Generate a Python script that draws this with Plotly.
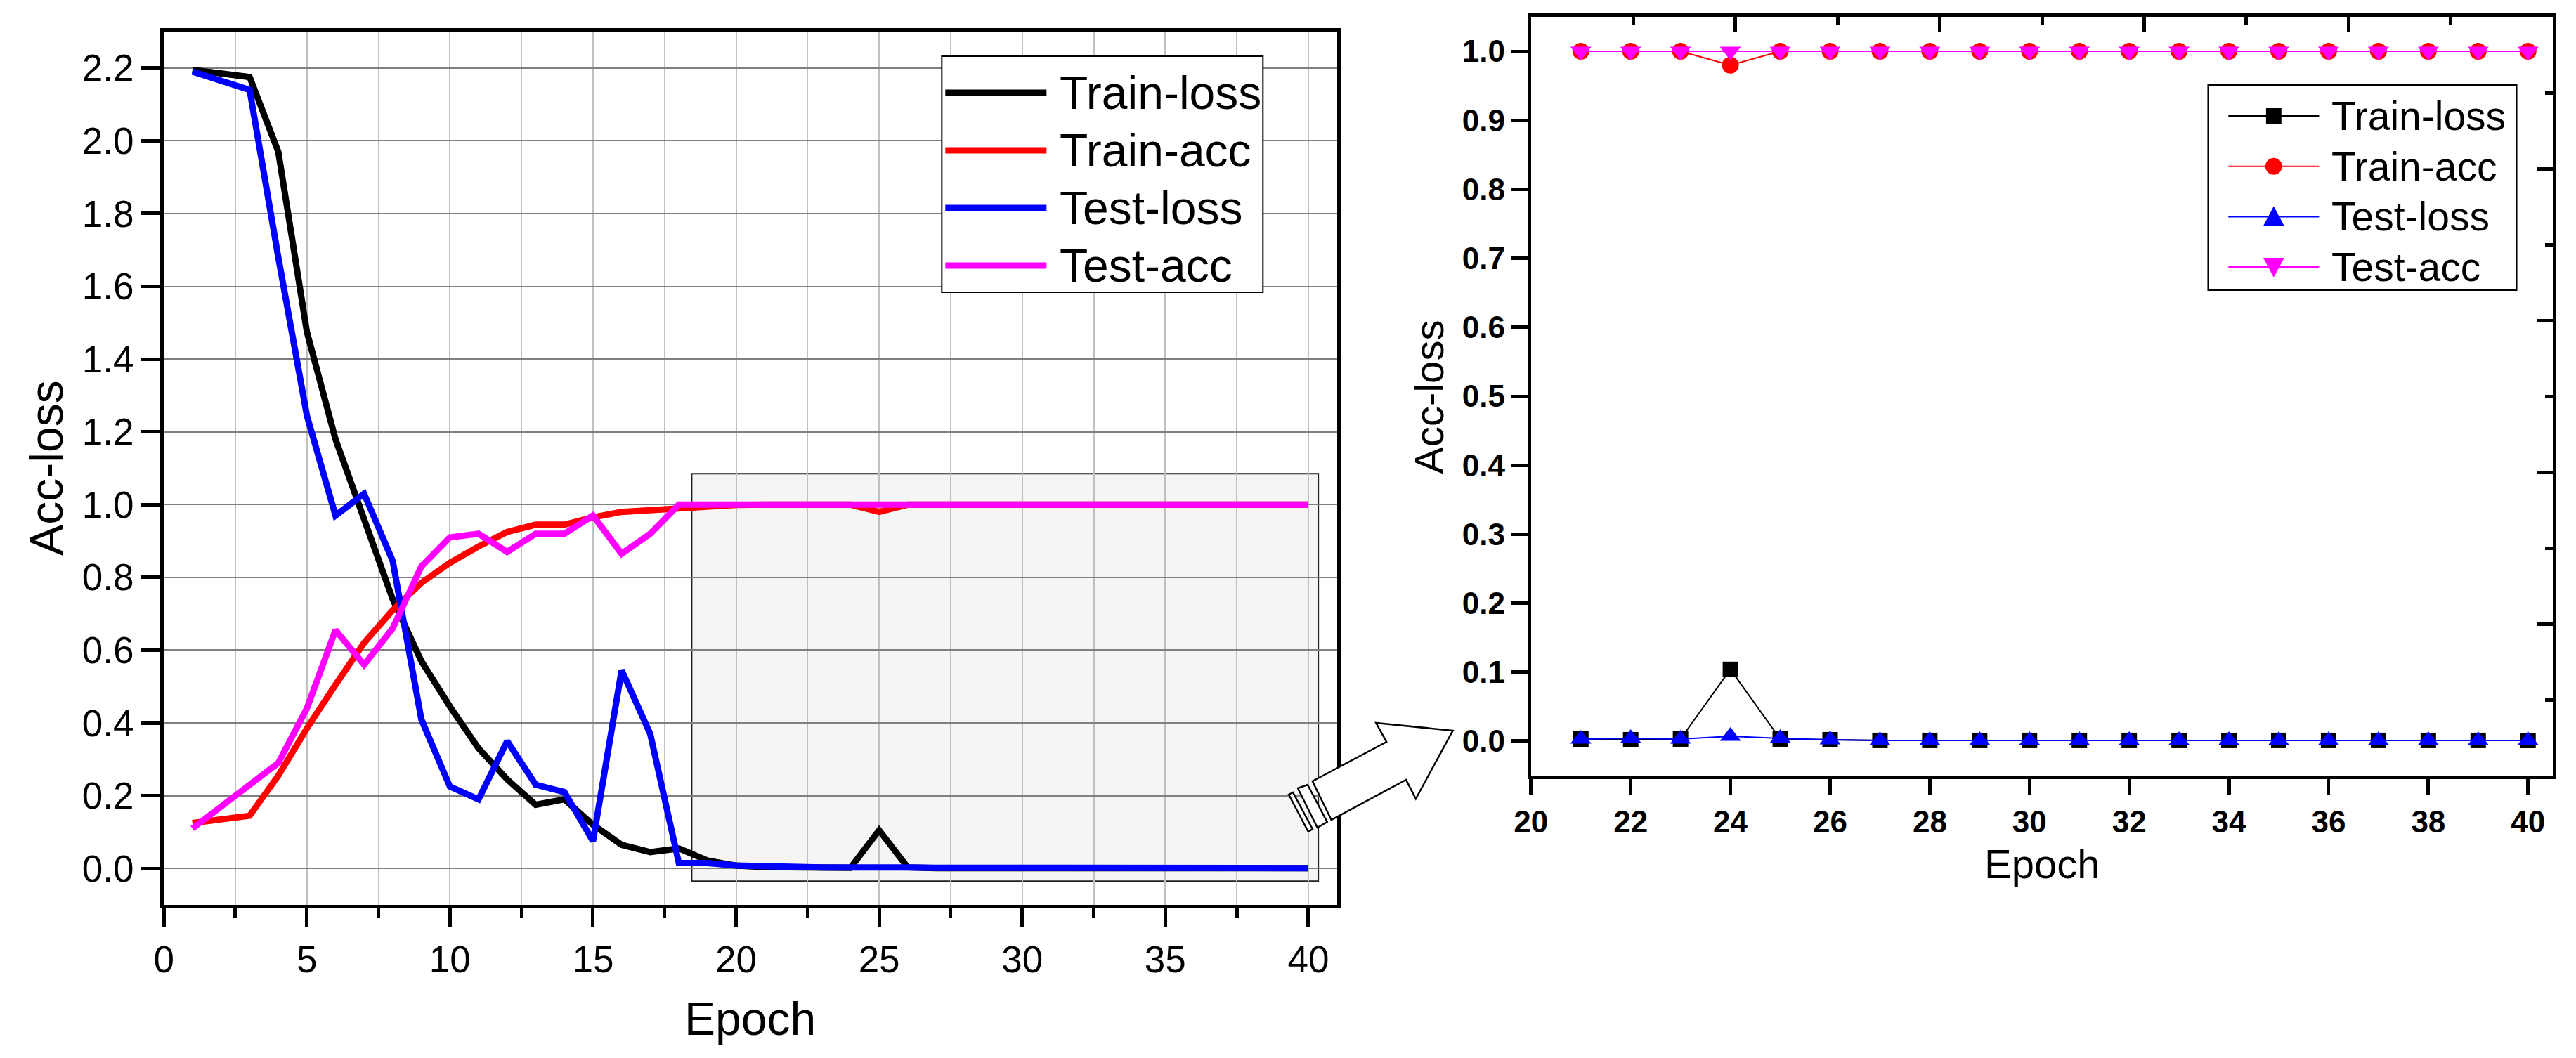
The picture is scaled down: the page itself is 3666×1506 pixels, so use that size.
import plotly.graph_objs as go

# canvas size in px, everything decorative is placed in px and converted to paper
W, H = 3666, 1506

# ---- data: full run (left panel) ----
epochs = list(range(1, 41))
train_loss = [2.195, 2.185, 2.175, 1.97, 1.475, 1.18, 0.96, 0.74, 0.57, 0.445,
              0.33, 0.245, 0.175, 0.19, 0.12, 0.065, 0.045, 0.055, 0.022, 0.008,
              0.004, 0.003, 0.003, 0.002, 0.105, 0.003, 0.001, 0.001, 0.001, 0.001,
              0.001, 0.001, 0.001, 0.001, 0.001, 0.001, 0.001, 0.001, 0.001, 0.001]
train_acc = [0.125, 0.135, 0.145, 0.255, 0.385, 0.505, 0.62, 0.71, 0.785, 0.84,
             0.885, 0.925, 0.945, 0.945, 0.965, 0.98, 0.985, 0.988, 0.995, 0.999,
             1.0, 1.0, 1.0, 1.0, 0.98, 1.0, 1.0, 1.0, 1.0, 1.0,
             1.0, 1.0, 1.0, 1.0, 1.0, 1.0, 1.0, 1.0, 1.0, 1.0]
test_loss = [2.19, 2.165, 2.14, 1.68, 1.245, 0.97, 1.03, 0.845, 0.41, 0.225,
             0.19, 0.35, 0.23, 0.21, 0.075, 0.545, 0.37, 0.015, 0.015, 0.008,
             0.005, 0.004, 0.003, 0.003, 0.005, 0.003, 0.002, 0.002, 0.002, 0.001,
             0.001, 0.001, 0.001, 0.001, 0.001, 0.001, 0.001, 0.001, 0.001, 0.001]
test_acc = [0.11, 0.17, 0.23, 0.29, 0.44, 0.655, 0.56, 0.66, 0.83, 0.91,
            0.92, 0.87, 0.92, 0.92, 0.97, 0.865, 0.92, 1.0, 1.0, 1.0,
            1.0, 1.0, 1.0, 1.0, 1.0, 1.0, 1.0, 1.0, 1.0, 1.0,
            1.0, 1.0, 1.0, 1.0, 1.0, 1.0, 1.0, 1.0, 1.0, 1.0]

# ---- data: zoomed epochs (right panel) ----
zoom_epochs = list(range(21, 41))
zoom_train_loss = [0.003, 0.002, 0.003, 0.104, 0.003, 0.002, 0.001, 0.001, 0.001, 0.001,
                   0.001, 0.001, 0.001, 0.001, 0.001, 0.001, 0.001, 0.001, 0.001, 0.001]
zoom_train_acc = [1.0, 1.0, 1.0, 0.98, 1.0, 1.0, 1.0, 1.0, 1.0, 1.0,
                  1.0, 1.0, 1.0, 1.0, 1.0, 1.0, 1.0, 1.0, 1.0, 1.0]
zoom_test_loss = [0.003, 0.004, 0.003, 0.007, 0.004, 0.002, 0.001, 0.001, 0.001, 0.001,
                  0.001, 0.001, 0.001, 0.001, 0.001, 0.001, 0.001, 0.001, 0.001, 0.001]
zoom_test_acc = [1.0, 1.0, 1.0, 1.0, 1.0, 1.0, 1.0, 1.0, 1.0, 1.0,
                 1.0, 1.0, 1.0, 1.0, 1.0, 1.0, 1.0, 1.0, 1.0, 1.0]

names = ['Train-loss', 'Train-acc', 'Test-loss', 'Test-acc']
colors = ['#000000', '#ff0000', '#0000ff', '#ff00ff']
symbols = ['square', 'circle', 'triangle-up', 'triangle-down']
msizes = [22, 24, 26, 26]

FONT = 'Arial, Liberation Sans, sans-serif'


def px(x):
    return x / W


def py(y):
    return 1 - y / H


fig = go.Figure()

for name, ys, col in zip(names, [train_loss, train_acc, test_loss, test_acc], colors):
    fig.add_trace(go.Scatter(x=epochs, y=ys, name=name, mode='lines',
                             line=dict(color=col, width=9),
                             xaxis='x', yaxis='y', showlegend=False))

for name, ys, col, sym, ms in zip(names,
                                  [zoom_train_loss, zoom_train_acc, zoom_test_loss, zoom_test_acc],
                                  colors, symbols, msizes):
    fig.add_trace(go.Scatter(x=zoom_epochs, y=ys, name=name, mode='lines+markers',
                             line=dict(color=col, width=2),
                             marker=dict(symbol=sym, size=ms, color=col, line=dict(width=0)),
                             xaxis='x2', yaxis='y2', showlegend=False))

# empty traces so the frame axes (top / right) of the zoom panel get drawn
fig.add_trace(go.Scatter(x=[], y=[], xaxis='x3', yaxis='y2', showlegend=False, hoverinfo='skip'))
fig.add_trace(go.Scatter(x=[], y=[], xaxis='x2', yaxis='y3', showlegend=False, hoverinfo='skip'))

shapes = []
annotations = []

# shaded region in the left panel that the right panel zooms into
shapes.append(dict(type='rect', xref='x', yref='y', x0=18.45, x1=40.35, y0=-0.035, y1=1.085,
                   fillcolor='#f5f5f5', line=dict(color='#202020', width=2), layer='below'))

# hollow arrow with break marks
body = [(1883, 1167), (1856, 1112), (1962, 1056), (1947, 1029), (2057, 1040),
        (2004, 1137), (1990, 1110)]
strip1 = [(1835, 1122), (1849, 1117), (1877, 1170), (1863, 1178)]
strip2 = [(1822, 1131), (1828, 1128), (1856, 1180), (1850, 1184)]
for poly in [body, strip1, strip2]:
    path = 'M ' + ' L '.join(f'{px(a):.5f},{py(b):.5f}' for a, b in poly) + ' Z'
    shapes.append(dict(type='path', xref='paper', yref='paper', path=path,
                       fillcolor='white', line=dict(color='black', width=2.5)))

# left legend (drawn by hand so the line samples are long)
shapes.append(dict(type='rect', xref='paper', yref='paper',
                   x0=px(1325), x1=px(1785), y0=py(416), y1=py(80),
                   fillcolor='white', line=dict(color='black', width=2)))
for i, (name, col) in enumerate(zip(names, colors)):
    yy = 132 + i * 82
    shapes.append(dict(type='line', xref='paper', yref='paper',
                       x0=px(1330), x1=px(1475), y0=py(yy), y1=py(yy),
                       line=dict(color=col, width=9)))
    annotations.append(dict(xref='paper', yref='paper', x=px(1492), y=py(yy),
                            xanchor='left', yanchor='middle', showarrow=False, text=name,
                            font=dict(family=FONT, size=66, color='black')))

# right legend
shapes.append(dict(type='rect', xref='paper', yref='paper',
                   x0=px(3139), x1=px(3581), y0=py(413), y1=py(121),
                   fillcolor='white', line=dict(color='black', width=2)))
mx = 3233
for i, (name, col) in enumerate(zip(names, colors)):
    yy = 165 + i * 71.7
    shapes.append(dict(type='line', xref='paper', yref='paper',
                       x0=px(3168), x1=px(3298), y0=py(yy), y1=py(yy),
                       line=dict(color=col, width=2)))
    if i == 0:
        shapes.append(dict(type='rect', xref='paper', yref='paper',
                           x0=px(mx - 11), x1=px(mx + 11), y0=py(yy + 11), y1=py(yy - 11),
                           fillcolor=col, line=dict(width=0)))
    elif i == 1:
        shapes.append(dict(type='circle', xref='paper', yref='paper',
                           x0=px(mx - 12), x1=px(mx + 12), y0=py(yy + 12), y1=py(yy - 12),
                           fillcolor=col, line=dict(width=0)))
    else:
        s = -1 if i == 2 else 1
        tri = [(mx - 15, yy - s * 13), (mx + 15, yy - s * 13), (mx, yy + s * 15)]
        path = 'M ' + ' L '.join(f'{px(a):.5f},{py(b):.5f}' for a, b in tri) + ' Z'
        shapes.append(dict(type='path', xref='paper', yref='paper', path=path,
                           fillcolor=col, line=dict(width=0)))
    annotations.append(dict(xref='paper', yref='paper', x=px(3314), y=py(yy),
                            xanchor='left', yanchor='middle', showarrow=False, text=name,
                            font=dict(family=FONT, size=57, color='black')))

# axis titles
annotations += [
    dict(xref='paper', yref='paper', x=px(42), y=py(666), textangle=-90, showarrow=False,
         xanchor='center', yanchor='middle', text='Acc-loss',
         font=dict(family=FONT, size=66, color='black')),
    dict(xref='paper', yref='paper', x=px(1050), y=py(1450), showarrow=False,
         xanchor='center', yanchor='middle', text='Epoch',
         font=dict(family=FONT, size=66, color='black')),
    dict(xref='paper', yref='paper', x=px(2022), y=py(565), textangle=-90, showarrow=False,
         xanchor='center', yanchor='middle', text='Acc-loss',
         font=dict(family=FONT, size=58, color='black')),
    dict(xref='paper', yref='paper', x=px(2901), y=py(1229), showarrow=False,
         xanchor='center', yanchor='middle', text='Epoch',
         font=dict(family=FONT, size=58, color='black')),
]

fig.update_layout(
    width=W, height=H, margin=dict(l=0, r=0, t=0, b=0),
    paper_bgcolor='white', plot_bgcolor='white',
    font=dict(family=FONT, color='black'),
    shapes=shapes, annotations=annotations, showlegend=False,
    xaxis=dict(domain=[px(210.5), px(1891)], anchor='y', range=[0, 41],
               tick0=0, dtick=5, ticks='outside', ticklen=27, tickwidth=5, tickcolor='black',
               minor=dict(dtick=2.5, tick0=0, ticks='outside', ticklen=14, tickwidth=5,
                          tickcolor='black', showgrid=True, gridcolor='#c0c0c0', gridwidth=2),
               showgrid=True, gridcolor='#c0c0c0', gridwidth=2, zeroline=False,
               showline=True, linecolor='black', linewidth=5, mirror=True,
               tickfont=dict(family=FONT, size=53, color='black')),
    yaxis=dict(domain=[py(1288), py(45)], anchor='x', range=[-0.1, 2.3],
               tick0=0, dtick=0.2, tickformat='.1f',
               ticks='outside', ticklen=27, tickwidth=5, tickcolor='black',
               showgrid=True, gridcolor='#808080', gridwidth=2, zeroline=False,
               showline=True, linecolor='black', linewidth=5, mirror=True,
               tickfont=dict(family=FONT, size=53, color='black')),
    xaxis2=dict(domain=[px(2169), px(3633)], anchor='y2', range=[20, 40.5],
                tick0=20, dtick=2, ticks='outside', ticklen=23, tickwidth=5, tickcolor='black',
                showgrid=False, zeroline=False,
                showline=True, linecolor='black', linewidth=5, mirror=True,
                tickfont=dict(family=FONT, size=44, color='black', weight='bold')),
    yaxis2=dict(domain=[py(1104), py(24)], anchor='x2', range=[-0.05, 1.05],
                tick0=0, dtick=0.1, tickformat='.1f',
                ticks='outside', ticklen=23, tickwidth=5, tickcolor='black',
                showgrid=False, zeroline=False,
                showline=True, linecolor='black', linewidth=5, mirror=True,
                tickfont=dict(family=FONT, size=44, color='black', weight='bold')),
    # Origin-style linked frame axes on top and right of the zoom panel
    xaxis3=dict(overlaying='x2', anchor='y2', side='top', range=[0, 5],
                tick0=0, dtick=1, ticks='inside', ticklen=22, tickwidth=5, tickcolor='black',
                minor=dict(dtick=0.5, ticks='inside', ticklen=11, tickwidth=5, tickcolor='black'),
                showticklabels=False, showgrid=False, zeroline=False,
                showline=True, linecolor='black', linewidth=5),
    yaxis3=dict(overlaying='y2', anchor='x2', side='right', range=[0, 10],
                tick0=0, dtick=2, ticks='inside', ticklen=22, tickwidth=5, tickcolor='black',
                minor=dict(dtick=1, ticks='inside', ticklen=11, tickwidth=5, tickcolor='black'),
                showticklabels=False, showgrid=False, zeroline=False,
                showline=True, linecolor='black', linewidth=5),
)

fig.write_html("out.html", config={'displayModeBar': False},
               post_script="document.body.style.margin='0';")
